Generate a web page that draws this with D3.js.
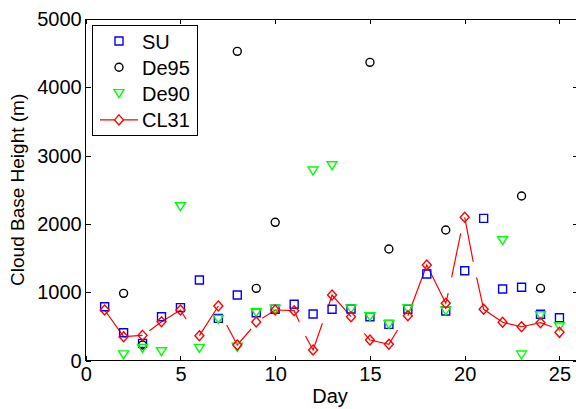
<!DOCTYPE html>
<html>
<head>
<meta charset="utf-8">
<script src="https://cdn.jsdelivr.net/npm/d3@7"></script>
<style>
  body { margin: 0; background: #fff; }
  svg { display: block; font-family: "Liberation Sans", Arial, sans-serif; }
</style>
</head>
<body>
<div id="chart"></div>
<script>
const WIDTH = 576, HEIGHT = 409;
const X0 = 85.7, X1 = 578.4, Y0 = 360.7, Y1 = 19; // axes box (right edge falls just outside the picture)

// data, one value per day
const days = d3.range(1, 26);
const su   = [790, 410, 254, 644, 776, 1180, 620, 961, 702, 752, 825, 683, 752, 756, 644, 532, 752, 1268, 727, 1317, 2083, 1049, 1074, 679, 629];
const de95 = [null, 986, 230, null, null, null, null, 4527, 1059, 2025, null, null, null, null, 4366, 1634, null, null, 1912, null, null, null, 2410, 1059, null];
const de90 = [null, 85, 181, 132, 2253, 181, 605, 196, 702, 752, null, 2775, 2853, 756, 644, 532, 756, null, 727, null, null, 1756, 83, 658, 497];
const cl31 = [742, 351, 371, 571, 742, 366, 800, 230, 566, 742, 732, 157, 961, 644, 303, 240, 658, 1400, 840, 2098, 752, 562, 497, 556, 415];
// CL31 connecting line, null = gap in the trace
const cl31Trace = [
  [1, 742], [2, 351], [3, 371], null,
  [3.36, 439], [4, 571], [5, 742], [5.3, 606], null,
  [6, 366], [7, 800], null,
  [7.44, 522], [8, 230], [8.73, 464], null,
  [9.32, 620], [10, 742], [11, 732], [11.27, 571], null,
  [11.6, 361], [12, 157], [12.49, 547], null,
  [12.8, 790], [13, 961], [14, 644], null,
  [14.7, 401], [15, 303], [16, 240], [16.46, 449], null,
  [17, 658], [18, 1400], [19, 840], [19.13, 990], null,
  [19.31, 1220], [19.79, 1864], null,
  [20, 2098], [20.45, 1448], null,
  [20.63, 1220], [21, 752], [22, 562], [23, 497], [24, 556], [24.59, 497], null
];
const xTicks = [0, 5, 10, 15, 20, 25];
const yTicks = [0, 1000, 2000, 3000, 4000, 5000];
const seriesNames = ["SU", "De95", "De90", "CL31"];

const MARKERS = {
  square: "M-4,-4h8v8h-8z",
  circle: d3.symbol(d3.symbolCircle, 50)(),
  tri: "M-5,-4L5,-4L0,4Z",
  diamond: "M0,-5L4.5,0L0,5L-4.5,0Z"
};
const series = [
  { name: "SU", values: su, marker: "square", color: "#0000ff" },
  { name: "De95", values: de95, marker: "circle", color: "#000000" },
  { name: "De90", values: de90, marker: "tri", color: "#00ff00" },
  { name: "CL31", values: cl31, marker: "diamond", color: "#ff0000" }
];

const svg = d3.select("#chart").append("svg")
    .attr("width", WIDTH)
    .attr("height", HEIGHT)

const x = d3.scaleLinear().domain([0, 26]).range([X0, X1]);
const y = d3.scaleLinear().domain([0, 5000]).range([Y0, Y1]);

// axes box
svg.append("rect")
    .attr("x", X0).attr("y", Y1)
    .attr("width", X1 - X0).attr("height", Y0 - Y1)
    .attr("fill", "none").attr("stroke", "#000").attr("stroke-width", 1)
    .attr("shape-rendering", "crispEdges")

const styleAxis = g => {
  g.select(".domain").remove();
  g.selectAll("line").attr("stroke", "#000").attr("shape-rendering", "crispEdges");
  g.selectAll("text").attr("fill", "#000").style("font-size", "20px");
}
svg.append("g").attr("transform", `translate(0,${Y0})`)
    .call(d3.axisBottom(x).tickValues(xTicks).tickSizeInner(-5).tickSizeOuter(0).tickPadding(6))
    .call(styleAxis)
svg.append("g").attr("transform", `translate(0,${Y1})`)
    .call(d3.axisTop(x).tickValues(xTicks).tickSizeInner(-5).tickSizeOuter(0).tickFormat(""))
    .call(styleAxis)
svg.append("g").attr("transform", `translate(${X0},0)`)
    .call(d3.axisLeft(y).tickValues(yTicks).tickFormat(d3.format("d")).tickSizeInner(-5).tickSizeOuter(0).tickPadding(4))
    .call(styleAxis)
svg.append("g").attr("transform", `translate(${X1},0)`)
    .call(d3.axisRight(y).tickValues(yTicks).tickSizeInner(-5).tickSizeOuter(0).tickFormat(""))
    .call(styleAxis)

svg.append("text")
    .attr("x", (X0 + X1) / 2 - 2).attr("y", 403)
    .attr("text-anchor", "middle").style("font-size", "20px")
    .text("Day")
svg.append("text")
    .attr("transform", `translate(24,${(Y0 + Y1) / 2}) rotate(-90)`)
    .attr("text-anchor", "middle").style("font-size", "19px")
    .text("Cloud Base Height (m)")

// CL31 line
const line = d3.line().defined(d => d !== null).x(d => x(d[0])).y(d => y(d[1]));
svg.append("path")
    .datum(cl31Trace)
    .attr("d", line)
    .attr("fill", "none").attr("stroke", "#ff0000").attr("stroke-width", 1.2)

// markers
series.forEach(s => {
  svg.append("g").selectAll("path")
      .data(days.map((d, i) => ({ day: d, v: s.values[i] })).filter(p => p.v !== null))
      .join("path")
      .attr("d", MARKERS[s.marker])
      .attr("transform", p => `translate(${x(p.day)},${y(p.v)})`)
      .attr("fill", "none").attr("stroke", s.color).attr("stroke-width", 1.4)
})

// legend
const legend = svg.append("g");
legend.append("rect")
    .attr("x", 92).attr("y", 25.5).attr("width", 105.5).attr("height", 110)
    .attr("fill", "#fff").attr("stroke", "#000").attr("shape-rendering", "crispEdges")
series.forEach((s, i) => {
  const cy = 41 + i * 26.3;
  if (s.name === "CL31") {
    legend.append("line")
        .attr("x1", 100).attr("x2", 138).attr("y1", cy).attr("y2", cy)
        .attr("stroke", s.color).attr("stroke-width", 1.2)
  }
  legend.append("path")
      .attr("d", MARKERS[s.marker])
      .attr("transform", `translate(119,${cy})`)
      .attr("fill", s.name === "CL31" ? "#fff" : "none")
      .attr("stroke", s.color).attr("stroke-width", 1.4)
  legend.append("text")
      .attr("x", 142).attr("y", cy + 7.5)
      .style("font-size", "20px")
      .text(seriesNames[i])
})
</script>
</body>
</html>
